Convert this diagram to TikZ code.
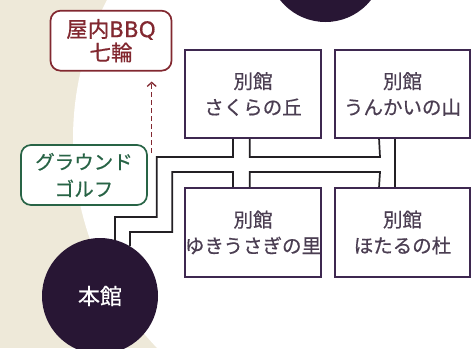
\documentclass[tikz,border=0pt]{standalone}
\usepackage{fontspec}
\newfontfamily\jp[FakeBold=0.6]{Noto Sans CJK JP}
\newfontfamily\dejavu[FakeBold=0.6]{DejaVu Sans}
\usetikzlibrary{arrows.meta,calc}
\definecolor{beige}{RGB}{238,233,217}
\definecolor{hallc}{RGB}{40,22,52}
\definecolor{boxline}{RGB}{62,40,80}
\definecolor{boxtext}{RGB}{75,62,82}
\definecolor{bbqred}{RGB}{130,40,48}
\definecolor{golfgreen}{RGB}{40,100,70}
\definecolor{wallc}{RGB}{35,32,36}
\tikzset{
  hall/.style={circle, fill=hallc, inner sep=0pt, minimum size=116bp, text=white,
    font=\jp\fontsize{22bp}{26bp}\selectfont},
  annex/.style={rectangle, draw=boxline, line width=1.9bp, fill=white, inner sep=0pt,
    align=center, text=boxtext, font=\jp\fontsize{19.5bp}{26bp}\selectfont},
  facility/.style={rectangle, rounded corners=10bp, line width=1.7bp, fill=white,
    inner sep=0pt, align=center},
  wall/.style={draw=wallc, line width=1.7bp},
  dasharrow/.style={draw=bbqred, line width=1.3bp, dash pattern=on 5bp off 3bp,
    -{Straight Barb[length=4bp,width=9bp,line width=1.3bp]}}
}
\begin{document}
\begin{tikzpicture}[x=1bp,y=-1bp]
\useasboundingbox (0,0) rectangle (471,348);
\fill[beige] (0,0) rectangle (471,348);
\fill[white] (374.6,139.1) circle[radius=301.6];

% halls
\node[hall] (topc) at (325.5,-36) {};
\node[hall] (honkan) at (100,296) {本館};

% annexes
\node[annex, minimum width=136bp, minimum height=88bp] (b1) at (253,94) {別館\\さくらの丘};
\node[annex, minimum width=135bp, minimum height=88bp] (b2) at (402.5,94) {別館\\うんかいの山};
\node[annex, minimum width=136bp, minimum height=89bp] (b3) at (253,232.5) {別館\\ゆきうさぎの里};
\node[annex, minimum width=135bp, minimum height=89bp] (b4) at (402.5,232.5) {別館\\ほたるの杜};

% facilities
\node[facility, draw=bbqred, text=bbqred, minimum width=121bp, minimum height=60bp,
  font=\jp\fontsize{21.5bp}{23.5bp}\selectfont] (bbq) at (111,40.7) {屋内{\dejavu BBQ}\\七輪};
\node[facility, draw=golfgreen, text=golfgreen, minimum width=126bp, minimum height=60bp,
  font=\jp\fontsize{19.5bp}{27bp}\selectfont] (golf) at (84,175) {グラウンド\\ゴルフ};

% corridors
\draw[wall] ($(b1.south west)+(49,0)$) |- (156.7,157) |- (115,217) -- (honkan.75);
\draw[wall] ($(b3.north west)+(49,0)$) |- (172.3,172) |- (130,232) -- (honkan.59);
\draw[wall] ($(b1.south west)+(65.7,0)$) |- (380,157) -- ($(b2.south west)+(45,0)$);
\draw[wall] ($(b3.north west)+(65.7,0)$) |- (380,172) -- ($(b4.north west)+(45,0)$);
\draw[wall] ($(b2.south west)+(60.7,0)$) -- ($(b4.north west)+(60.7,0)$);

% dashed arrow to BBQ
\coordinate (arrS) at (151.7,153);
\draw[dasharrow, shorten >=10bp] (arrS) -- (arrS |- bbq.south);
\end{tikzpicture}
\end{document}
